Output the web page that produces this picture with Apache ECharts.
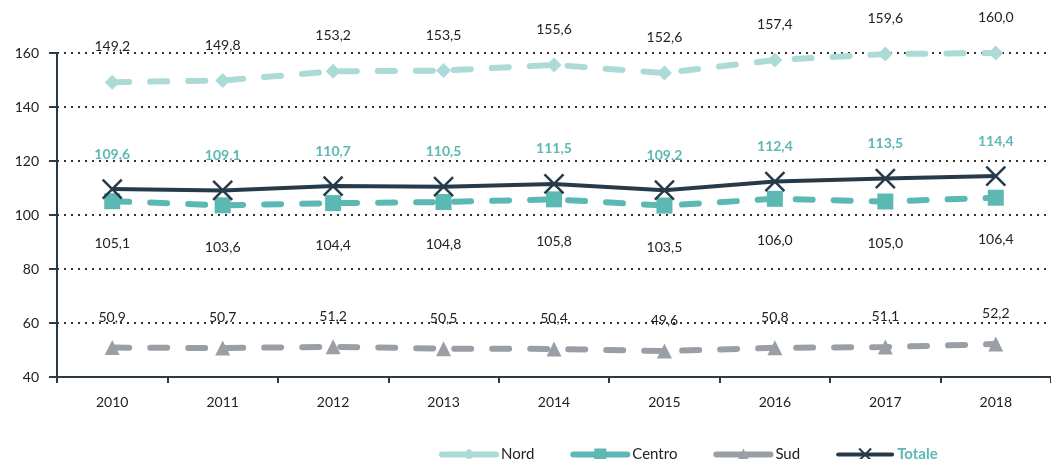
<!DOCTYPE html>
<html>
<head>
<meta charset="utf-8"/>
<title>Indice</title>
<script src="https://cdn.jsdelivr.net/npm/echarts@6/dist/echarts.min.js"></script>
</head>
<body style="margin:0">
<div id="chart" style="width:1051px;height:459px;"></div>
<script>
var years = ['2010','2011','2012','2013','2014','2015','2016','2017','2018'];
var nord = [149.2,149.8,153.2,153.5,155.6,152.6,157.4,159.6,160.0];
var centro = [105.1,103.6,104.4,104.8,105.8,103.5,106.0,105.0,106.4];
var sud = [50.9,50.7,51.2,50.5,50.4,49.6,50.8,51.1,52.2];
var totale = [109.6,109.1,110.7,110.5,111.5,109.2,112.4,113.5,114.4];

var FONT = 'Lato';
var xPath = 'path://M0,0L20,20M20,0L0,20';

function fmt(p){ return p.value.toFixed(1).replace('.', ','); }

var chart = echarts.init(document.getElementById('chart'));
chart.setOption({
    animation: false,
    textStyle: {fontFamily: FONT},
    grid: {left: 57, top: 53, width: 1011, height: 324},
    legend: {
        left: 434, top: 441,
        itemWidth: 54, itemHeight: 15, itemGap: 36,
        textStyle: {fontSize: 15, color: '#222', fontFamily: FONT},
        data: [
            {name: 'Nord', lineStyle: {width: 6, type: 'solid', cap: 'round'}},
            {name: 'Centro', lineStyle: {width: 6, type: 'solid', cap: 'round'}},
            {name: 'Sud', lineStyle: {width: 6, type: 'solid', cap: 'round'}},
            {name: 'Totale', lineStyle: {width: 4, cap: 'round'},
             textStyle: {color: '#5cb8b2', fontWeight: 'bold'}}
        ]
    },
    xAxis: {
        type: 'category',
        data: years,
        axisLine: {lineStyle: {color: '#2b3945', width: 2}},
        axisTick: {show: true, length: 6, lineStyle: {color: '#2b3945', width: 2}},
        axisLabel: {color: '#222', fontSize: 14, margin: 18}
    },
    yAxis: {
        type: 'value',
        min: 40, max: 160, interval: 20,
        axisLine: {show: true, lineStyle: {color: '#2b3945', width: 2}},
        axisTick: {show: true, length: 8, lineStyle: {color: '#2b3945', width: 2}},
        axisLabel: {color: '#222', fontSize: 14, margin: 18},
        splitLine: {lineStyle: {color: '#333', type: [2, 5], width: 2}}
    },
    series: [
        {
            name: 'Nord', type: 'line', data: nord,
            symbol: 'diamond', symbolSize: 15,
            itemStyle: {color: '#acdad7'},
            lineStyle: {color: '#acdad7', width: 6, type: [17, 21], cap: 'round'},
            label: {show: true, position: 'top', distance: 21, color: '#222', fontSize: 14, formatter: fmt}
        },
        {
            name: 'Centro', type: 'line', data: centro,
            symbol: 'rect', symbolSize: 16,
            itemStyle: {color: '#5cb8b2'},
            lineStyle: {color: '#5cb8b2', width: 6, type: [17, 21], cap: 'round'},
            label: {show: true, position: 'bottom', distance: 27, color: '#222', fontSize: 14, formatter: fmt}
        },
        {
            name: 'Sud', type: 'line', data: sud,
            symbol: 'triangle', symbolSize: 15,
            itemStyle: {color: '#9a9fa6'},
            lineStyle: {color: '#9a9fa6', width: 6, type: [17, 21], cap: 'round'},
            label: {show: true, position: 'top', distance: 16, color: '#222', fontSize: 14, formatter: fmt}
        },
        {
            name: 'Totale', type: 'line', data: totale,
            symbol: xPath, symbolSize: 19,
            itemStyle: {color: 'none', borderColor: '#263a4a', borderWidth: 2.5},
            lineStyle: {color: '#263a4a', width: 4},
            label: {show: true, position: 'top', distance: 16, color: '#5cb8b2', fontWeight: 'bold', fontSize: 14, formatter: fmt}
        }
    ]
});
</script>
</body>
</html>
